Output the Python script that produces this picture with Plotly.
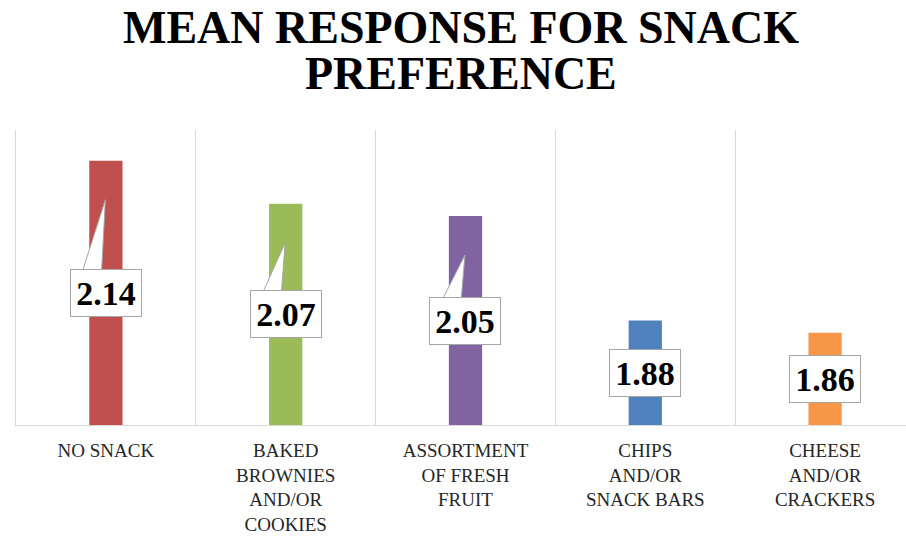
import plotly.graph_objects as go

categories = ["NO SNACK", "BAKED<br>BROWNIES<br>AND/OR<br>COOKIES", "ASSORTMENT<br>OF FRESH<br>FRUIT",
              "CHIPS<br>AND/OR<br>SNACK BARS", "CHEESE<br>AND/OR<br>CRACKERS"]
values = [2.14, 2.07, 2.05, 1.88, 1.86]
labels = ["2.14", "2.07", "2.05", "1.88", "1.86"]
colors = ["#C0504D", "#9BBB59", "#8064A2", "#4F81BD", "#F79646"]
callout = [True, True, True, False, False]

y_min, y_max = 1.71, 2.19
idx = list(range(len(values)))
serif = "Liberation Serif, Times New Roman, serif"
border = "#a6a6a6"

fig = go.Figure()
fig.add_trace(go.Bar(
    x=idx, y=[v - y_min for v in values], base=y_min,
    marker=dict(color=colors, line=dict(width=0)),
    width=0.185, hoverinfo="skip", showlegend=False,
))

shapes = []
annotations = []
for i, v, lab, c in zip(idx, values, labels, callout):
    mid = (y_min + v) / 2
    if c:
        tip_y = v - 0.0635
        base_y = mid + 0.030
        path = (f"M {i - 0.136} {base_y} L {i - 0.003} {tip_y} "
                f"L {i - 0.025} {base_y} Z")
        shapes.append(dict(type="path", xref="x", yref="y", path=path,
                           fillcolor="white", line=dict(color=border, width=1),
                           layer="above"))
    annotations.append(dict(
        x=i, y=mid, xref="x", yref="y", text=f"<b>{lab}</b>", showarrow=False,
        font=dict(family=serif, size=34, color="#000000"),
        bgcolor="white", bordercolor=border, borderwidth=1, borderpad=3,
        width=64, height=40, xanchor="center", yanchor="middle",
    ))

annotations.append(dict(x=0.5, y=1.349, xref="paper", yref="paper",
                        text="<b>MEAN RESPONSE FOR SNACK</b>", showarrow=False,
                        font=dict(family=serif, size=46, color="#000000"),
                        xanchor="center", yanchor="middle"))
annotations.append(dict(x=0.5, y=1.193, xref="paper", yref="paper",
                        text="<b>PREFERENCE</b>", showarrow=False,
                        font=dict(family=serif, size=46, color="#000000"),
                        xanchor="center", yanchor="middle"))

fig.update_layout(
    width=906, height=537,
    margin=dict(l=16, r=0, t=130, b=112),
    paper_bgcolor="white", plot_bgcolor="white",
    shapes=shapes, annotations=annotations,
    xaxis=dict(
        range=[-0.5, 4.45], tickmode="array", tickvals=idx, ticktext=categories,
        showgrid=False, zeroline=False, showline=True, linecolor="#d9d9d9", linewidth=1,
        ticks="", tickfont=dict(family=serif, size=19, color="#262626"),
        minor=dict(tick0=-0.5, dtick=1, showgrid=True, gridcolor="#d9d9d9", gridwidth=1, ticks=""),
        ticklabelstandoff=8, fixedrange=True,
    ),
    yaxis=dict(
        range=[y_min, y_max], showgrid=False, zeroline=False, showticklabels=False,
        showline=True, linecolor="#d9d9d9", linewidth=1, ticks="", fixedrange=True,
    ),
)

fig.write_html("out.html")
